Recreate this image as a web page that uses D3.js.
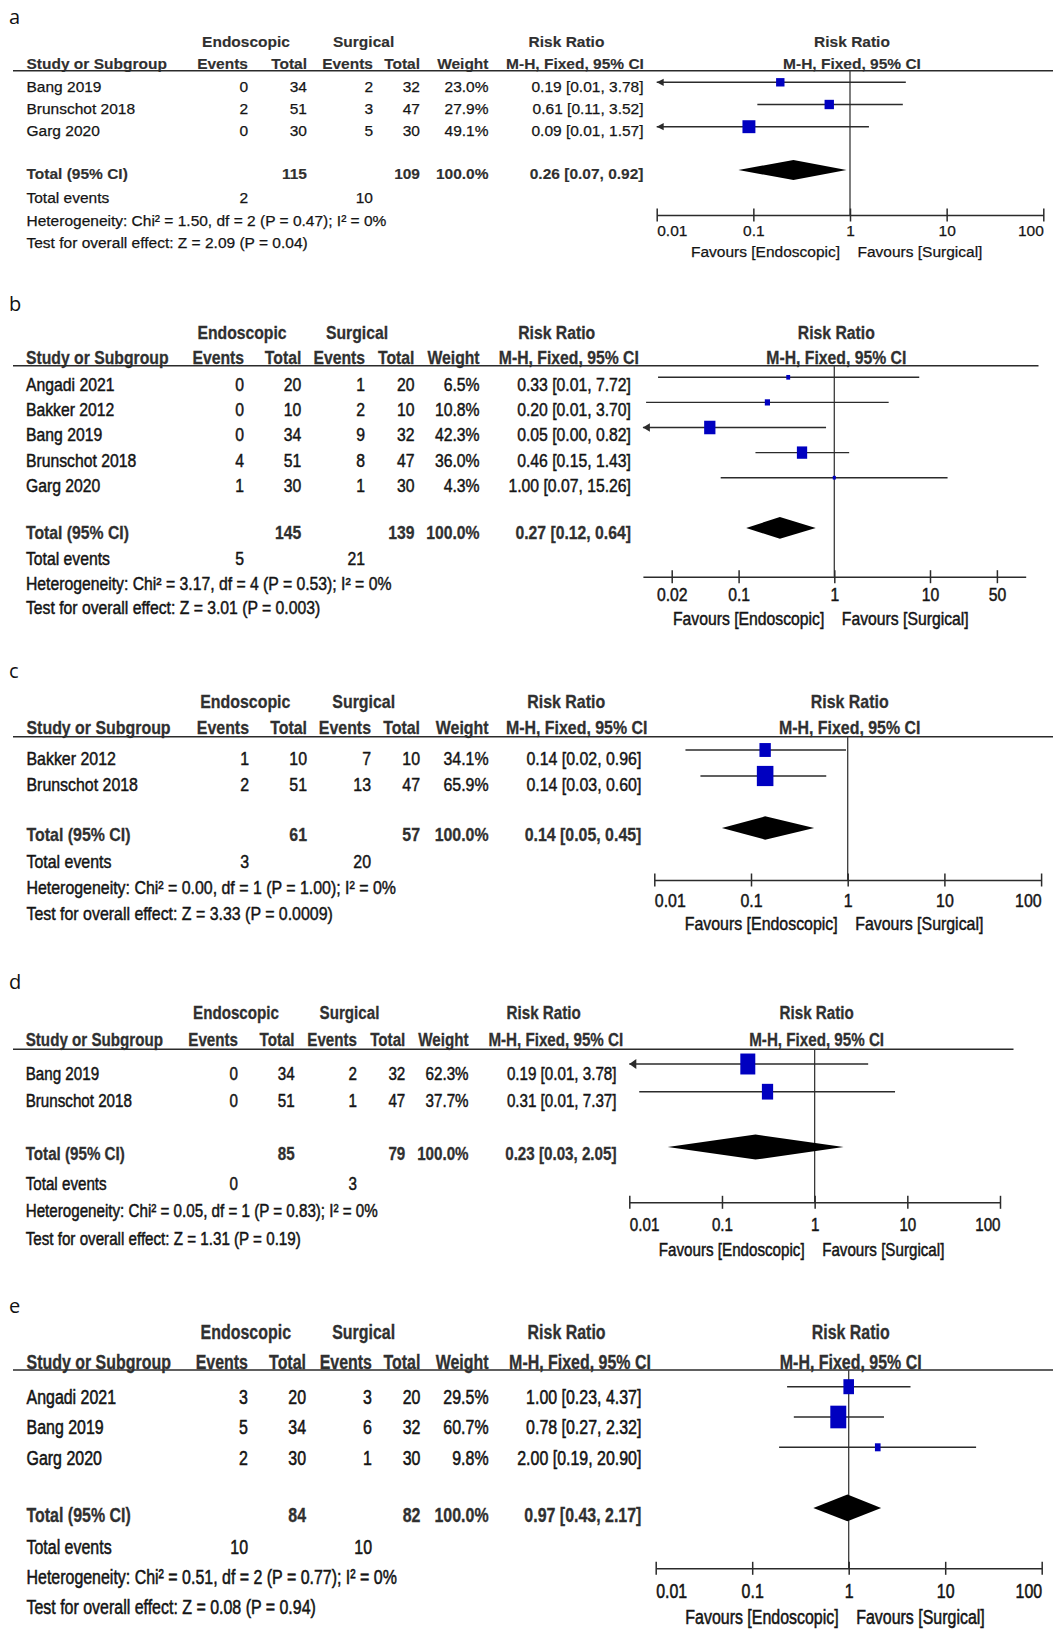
<!DOCTYPE html>
<html><head><meta charset="utf-8">
<script src="https://cdn.jsdelivr.net/npm/d3@7"></script>
<style>body{margin:0;background:#fff}svg{display:block}</style>
</head><body>
<svg id="chart" width="1053" height="1630"></svg>
<script>
// ---------------- DATA ----------------
const panelLetters = ["a", "b", "c", "d", "e"];
const studies = [
  ["Bang 2019", "Brunschot 2018", "Garg 2020"],
  ["Angadi 2021", "Bakker 2012", "Bang 2019", "Brunschot 2018", "Garg 2020"],
  ["Bakker 2012", "Brunschot 2018"],
  ["Bang 2019", "Brunschot 2018"],
  ["Angadi 2021", "Bang 2019", "Garg 2020"]
];
const endoEvents = [[0, 2, 0], [0, 0, 0, 4, 1], [1, 2], [0, 0], [3, 5, 2]];
const endoTotal  = [[34, 51, 30], [20, 10, 34, 51, 30], [10, 51], [34, 51], [20, 34, 30]];
const surgEvents = [[2, 3, 5], [1, 2, 9, 8, 1], [7, 13], [2, 1], [3, 6, 1]];
const surgTotal  = [[32, 47, 30], [20, 10, 32, 47, 30], [10, 47], [32, 47], [20, 32, 30]];
const weights    = [[23.0, 27.9, 49.1], [6.5, 10.8, 42.3, 36.0, 4.3], [34.1, 65.9], [62.3, 37.7], [29.5, 60.7, 9.8]];
const riskRatio  = [[0.19, 0.61, 0.09], [0.33, 0.20, 0.05, 0.46, 1.00], [0.14, 0.14], [0.19, 0.31], [1.00, 0.78, 2.00]];
const ciLow      = [[0.0094, 0.11, 0.0052], [0.0144, 0.0108, 0.003, 0.15, 0.065], [0.021, 0.03], [0.0094, 0.0128], [0.23, 0.27, 0.19]];
const ciHigh     = [[3.78, 3.52, 1.57], [7.72, 3.70, 0.82, 1.43, 15.26], [0.96, 0.60], [3.78, 7.37], [4.37, 2.32, 20.90]];
const ciText = [
  ["0.19 [0.01, 3.78]", "0.61 [0.11, 3.52]", "0.09 [0.01, 1.57]"],
  ["0.33 [0.01, 7.72]", "0.20 [0.01, 3.70]", "0.05 [0.00, 0.82]", "0.46 [0.15, 1.43]", "1.00 [0.07, 15.26]"],
  ["0.14 [0.02, 0.96]", "0.14 [0.03, 0.60]"],
  ["0.19 [0.01, 3.78]", "0.31 [0.01, 7.37]"],
  ["1.00 [0.23, 4.37]", "0.78 [0.27, 2.32]", "2.00 [0.19, 20.90]"]
];
const totalEndo = [115, 145, 61, 85, 84];
const totalSurg = [109, 139, 57, 79, 82];
const totalWeight = ["100.0%", "100.0%", "100.0%", "100.0%", "100.0%"];
const pooledRR   = [0.26, 0.27, 0.14, 0.23, 0.97];
const pooledLow  = [0.07, 0.12, 0.05, 0.026, 0.43];
const pooledHigh = [0.92, 0.64, 0.45, 2.05, 2.17];
const pooledText = ["0.26 [0.07, 0.92]", "0.27 [0.12, 0.64]", "0.14 [0.05, 0.45]", "0.23 [0.03, 2.05]", "0.97 [0.43, 2.17]"];
const totalEventsEndo = [2, 5, 3, 0, 10];
const totalEventsSurg = [10, 21, 20, 3, 10];
const heterogeneity = [
  "Heterogeneity: Chi² = 1.50, df = 2 (P = 0.47); I² = 0%",
  "Heterogeneity: Chi² = 3.17, df = 4 (P = 0.53); I² = 0%",
  "Heterogeneity: Chi² = 0.00, df = 1 (P = 1.00); I² = 0%",
  "Heterogeneity: Chi² = 0.05, df = 1 (P = 0.83); I² = 0%",
  "Heterogeneity: Chi² = 0.51, df = 2 (P = 0.77); I² = 0%"
];
const overallEffect = [
  "Test for overall effect: Z = 2.09 (P = 0.04)",
  "Test for overall effect: Z = 3.01 (P = 0.003)",
  "Test for overall effect: Z = 3.33 (P = 0.0009)",
  "Test for overall effect: Z = 1.31 (P = 0.19)",
  "Test for overall effect: Z = 0.08 (P = 0.94)"
];
const tickValues = [[0.01, 0.1, 1, 10, 100], [0.02, 0.1, 1, 10, 50], [0.01, 0.1, 1, 10, 100], [0.01, 0.1, 1, 10, 100], [0.01, 0.1, 1, 10, 100]];
const tickLabels = [["0.01", "0.1", "1", "10", "100"], ["0.02", "0.1", "1", "10", "50"], ["0.01", "0.1", "1", "10", "100"], ["0.01", "0.1", "1", "10", "100"], ["0.01", "0.1", "1", "10", "100"]];
const groupLabels = ["Endoscopic", "Surgical"];
const columnLabels = ["Study or Subgroup", "Events", "Total", "Events", "Total", "Weight", "M-H, Fixed, 95% CI"];
const effectLabels = ["Risk Ratio", "M-H, Fixed, 95% CI"];
const totalLabels = ["Total (95% CI)", "Total events"];
const favourLabels = ["Favours [Endoscopic]", "Favours [Surgical]"];

// ---------------- LAYOUT ----------------
const layout = [
  {labelY: 24, fs: 15.5, sx: 1.0, heavy: 0.25, h1: 41.6, h2: 63.4, rule: 70.7, ruleX: [13, 1053], row0: 82.3, step: 22.2, tOff: 4.3, totOff: 4,
   te: 197.5, het: 220.4, test: 242.2, axisY: 215, tickLab: 230.5, fav: 252, xr: [656.7, 1043.3], sqK: 0.97, asp: 1.0, dH: 20,
   col: {study: 26.5, ev1: 248, tot1: 307, ev2: 373, tot2: 420, wt: 488.5, rr: 643.5, hEndo: 246, hSurg: 363.6, hRR: 566.5, hMH: 575}},
  {labelY: 311, fs: 17.6, sx: 0.895, heavy: 0.45, h1: 332.6, h2: 357.6, rule: 365.7, ruleX: [13, 1038.5], row0: 377.3, step: 25.1, tOff: 7.8, totOff: 4.5,
   te: 559.3, het: 584.2, test: 608.1, axisY: 576.7, tickLab: 595, fav: 618.5, xr: [642.9, 1025.7], sqK: 0.92, asp: 1.2, dH: 21.7,
   col: {study: 26, ev1: 244, tot1: 301.3, ev2: 365, tot2: 414.4, wt: 479.6, rr: 631, hEndo: 242, hSurg: 357, hRR: 556.7, hMH: 568.8}},
  {labelY: 678, fs: 18.3, sx: 0.87, heavy: 0.45, h1: 701.7, h2: 727.7, rule: 736.7, ruleX: [13, 1053], row0: 750, step: 26, tOff: 8.2, totOff: 6.7,
   te: 861.8, het: 887.7, test: 913.7, axisY: 880, tickLab: 900.5, fav: 924, xr: [654.3, 1041.1], sqK: 1.05, asp: 1.22, dH: 23.3,
   col: {study: 26.5, ev1: 249, tot1: 307, ev2: 371, tot2: 420, wt: 488.6, rr: 641.4, hEndo: 245.3, hSurg: 363.7, hRR: 566.2, hMH: 576.7}},
  {labelY: 989, fs: 19.2, sx: 0.79, heavy: 0.5, h1: 1012.5, h2: 1039.5, rule: 1049.3, ruleX: [13, 1013.5], row0: 1064, step: 27.7, tOff: 9, totOff: 6,
   te: 1183, het: 1210, test: 1238, axisY: 1202.3, tickLab: 1224.5, fav: 1249.5, xr: [629.3, 1000], sqK: 0.98, asp: 1.4, dH: 25,
   col: {study: 25.7, ev1: 238, tot1: 294.6, ev2: 357, tot2: 405.3, wt: 468.6, rr: 616.5, hEndo: 236, hSurg: 349.5, hRR: 543.7, hMH: 555.8}},
  {labelY: 1313, fs: 21, sx: 0.76, heavy: 0.55, h1: 1331.6, h2: 1361.7, rule: 1370, ruleX: [13, 1053], row0: 1386.7, step: 30.3, tOff: 10, totOff: 7,
   te: 1546.8, het: 1577, test: 1607, axisY: 1568.3, tickLab: 1590.7, fav: 1616.5, xr: [655.7, 1041.7], sqK: 1.06, asp: 1.42, dH: 26.7,
   col: {study: 26.5, ev1: 248, tot1: 306, ev2: 372, tot2: 420.4, wt: 488.6, rr: 641.4, hEndo: 245.8, hSurg: 363.7, hRR: 566.6, hMH: 580}}
];

const FONT = "'Liberation Sans', Arial, Helvetica, sans-serif";
const INK = "#141414", HEAD = "#303030", LINE = "#2b2b2b", BLUE = "#0000c0";
const svg = d3.select("#chart");
const pct = d3.format(".1f");
const sqScale = d3.scalePow().exponent(0.57).domain([0, 100]).range([0, 20]);

layout.forEach((L, p) => {
  const g = svg.append("g").attr("font-family", FONT);
  const x = d3.scaleLog().domain([0.01, 100]).range(L.xr);
  const n = studies[p].length;
  const y = d3.scaleLinear().domain([0, 1]).range([L.row0, L.row0 + L.step]);
  const T = (xx, yy, s, anchor, bold) => g.append("text")
    .attr("transform", `translate(${xx},${yy}) scale(${L.sx},1)`)
    .attr("dy", "0.35em")
    .attr("text-anchor", anchor || "start")
    .style("font-size", L.fs + "px")
    .style("font-weight", bold ? "bold" : "normal")
    .attr("fill", bold ? HEAD : INK)
    .attr("stroke", bold ? HEAD : INK)
    .attr("stroke-width", bold ? L.heavy * 0.6 : L.heavy)
    .text(s);
  const c = L.col;

  // panel letter
  g.append("text").attr("x", 9).attr("y", L.labelY)
    .attr("font-family", "'Open Sans', 'Noto Sans', sans-serif")
    .style("font-size", "20px").attr("fill", "#111").text(panelLetters[p]);

  // header row 1
  T(c.hEndo, L.h1, groupLabels[0], "middle", true);
  T(c.hSurg, L.h1, groupLabels[1], "middle", true);
  T(c.hRR, L.h1, effectLabels[0], "middle", true);
  T(x(1) + 2, L.h1, effectLabels[0], "middle", true);
  // header row 2
  T(c.study, L.h2, columnLabels[0], "start", true);
  T(c.ev1, L.h2, columnLabels[1], "end", true);
  T(c.tot1, L.h2, columnLabels[2], "end", true);
  T(c.ev2, L.h2, columnLabels[3], "end", true);
  T(c.tot2, L.h2, columnLabels[4], "end", true);
  T(c.wt, L.h2, columnLabels[5], "end", true);
  T(c.hMH, L.h2, columnLabels[6], "middle", true);
  T(x(1) + 2, L.h2, effectLabels[1], "middle", true);

  // rule
  g.append("line").attr("x1", L.ruleX[0]).attr("x2", L.ruleX[1])
    .attr("y1", L.rule).attr("y2", L.rule).attr("stroke", LINE).attr("stroke-width", 1.6);

  // vertical line of no effect
  g.append("line").attr("x1", x(1)).attr("x2", x(1)).attr("y1", L.rule).attr("y2", L.axisY)
    .attr("stroke", "#3a3a3a").attr("stroke-width", 1.3);

  // study rows
  studies[p].forEach((s, i) => {
    const ym = y(i), yt = ym + L.tOff;
    T(c.study, yt, s);
    T(c.ev1, yt, endoEvents[p][i], "end");
    T(c.tot1, yt, endoTotal[p][i], "end");
    T(c.ev2, yt, surgEvents[p][i], "end");
    T(c.tot2, yt, surgTotal[p][i], "end");
    T(c.wt, yt, pct(weights[p][i]) + "%", "end");
    T(c.rr, yt, ciText[p][i], "end");

    const lo = ciLow[p][i], hi = ciHigh[p][i];
    const xl = x(Math.max(lo, 0.01)), xh = x(Math.min(hi, 100));
    g.append("line").attr("x1", xl).attr("x2", xh).attr("y1", ym).attr("y2", ym)
      .attr("stroke", LINE).attr("stroke-width", 1.4);
    if (lo < 0.01) {
      const ah = 3.6 * L.asp;
      g.append("path").attr("d", `M${xl},${ym} L${xl + 7},${ym - ah} L${xl + 7},${ym + ah} Z`).attr("fill", LINE);
    }
    const w = sqScale(weights[p][i]) * L.sqK, h = w * L.asp;
    g.append("rect").attr("x", x(riskRatio[p][i]) - w / 2).attr("y", ym - h / 2)
      .attr("width", w).attr("height", h).attr("fill", BLUE);
  });

  // total row
  const yd = y(n + 1 - (p === 0 ? 0.05 : 0)), ytt = yd + L.totOff;
  T(c.study, ytt, totalLabels[0], "start", true);
  T(c.tot1, ytt, totalEndo[p], "end", true);
  T(c.tot2, ytt, totalSurg[p], "end", true);
  T(c.wt, ytt, totalWeight[p], "end", true);
  T(c.rr, ytt, pooledText[p], "end", true);
  const hh = L.dH / 2;
  g.append("path")
    .attr("d", `M${x(pooledLow[p])},${yd} L${x(pooledRR[p])},${yd - hh} L${x(pooledHigh[p])},${yd} L${x(pooledRR[p])},${yd + hh} Z`)
    .attr("fill", "#000");

  // footer lines
  T(c.study, L.te, totalLabels[1]);
  T(c.ev1, L.te, totalEventsEndo[p], "end");
  T(c.ev2, L.te, totalEventsSurg[p], "end");
  T(c.study, L.het, heterogeneity[p]);
  T(c.study, L.test, overallEffect[p]);

  // axis
  const ax = g.append("g").attr("transform", `translate(0,${L.axisY})`)
    .call(d3.axisBottom(x).tickValues(tickValues[p]).tickFormat((d, i) => tickLabels[p][i])
      .tickSizeOuter(0).tickSizeInner(6.5));
  ax.attr("font-family", FONT).attr("font-size", null);
  ax.select(".domain").attr("stroke", LINE).attr("stroke-width", 1.6);
  ax.selectAll(".tick line").attr("y1", -6.5).attr("y2", 6.5).attr("stroke", LINE).attr("stroke-width", 1.5);
  const dom = x.domain();
  ax.selectAll(".tick text").attr("y", 0).attr("dy", "0.35em")
    .attr("transform", `translate(0,${L.tickLab - L.axisY}) scale(${L.sx},1)`)
    .attr("text-anchor", d => d <= dom[0] ? "start" : (d >= dom[1] ? "end" : "middle"))
    .style("font-size", L.fs + "px").attr("fill", INK)
    .attr("stroke", INK).attr("stroke-width", L.heavy);

  // favours labels
  T(x(1) - 10, L.fav, favourLabels[0], "end");
  T(x(1) + 7.5, L.fav, favourLabels[1], "start");
});
</script>
</body></html>
